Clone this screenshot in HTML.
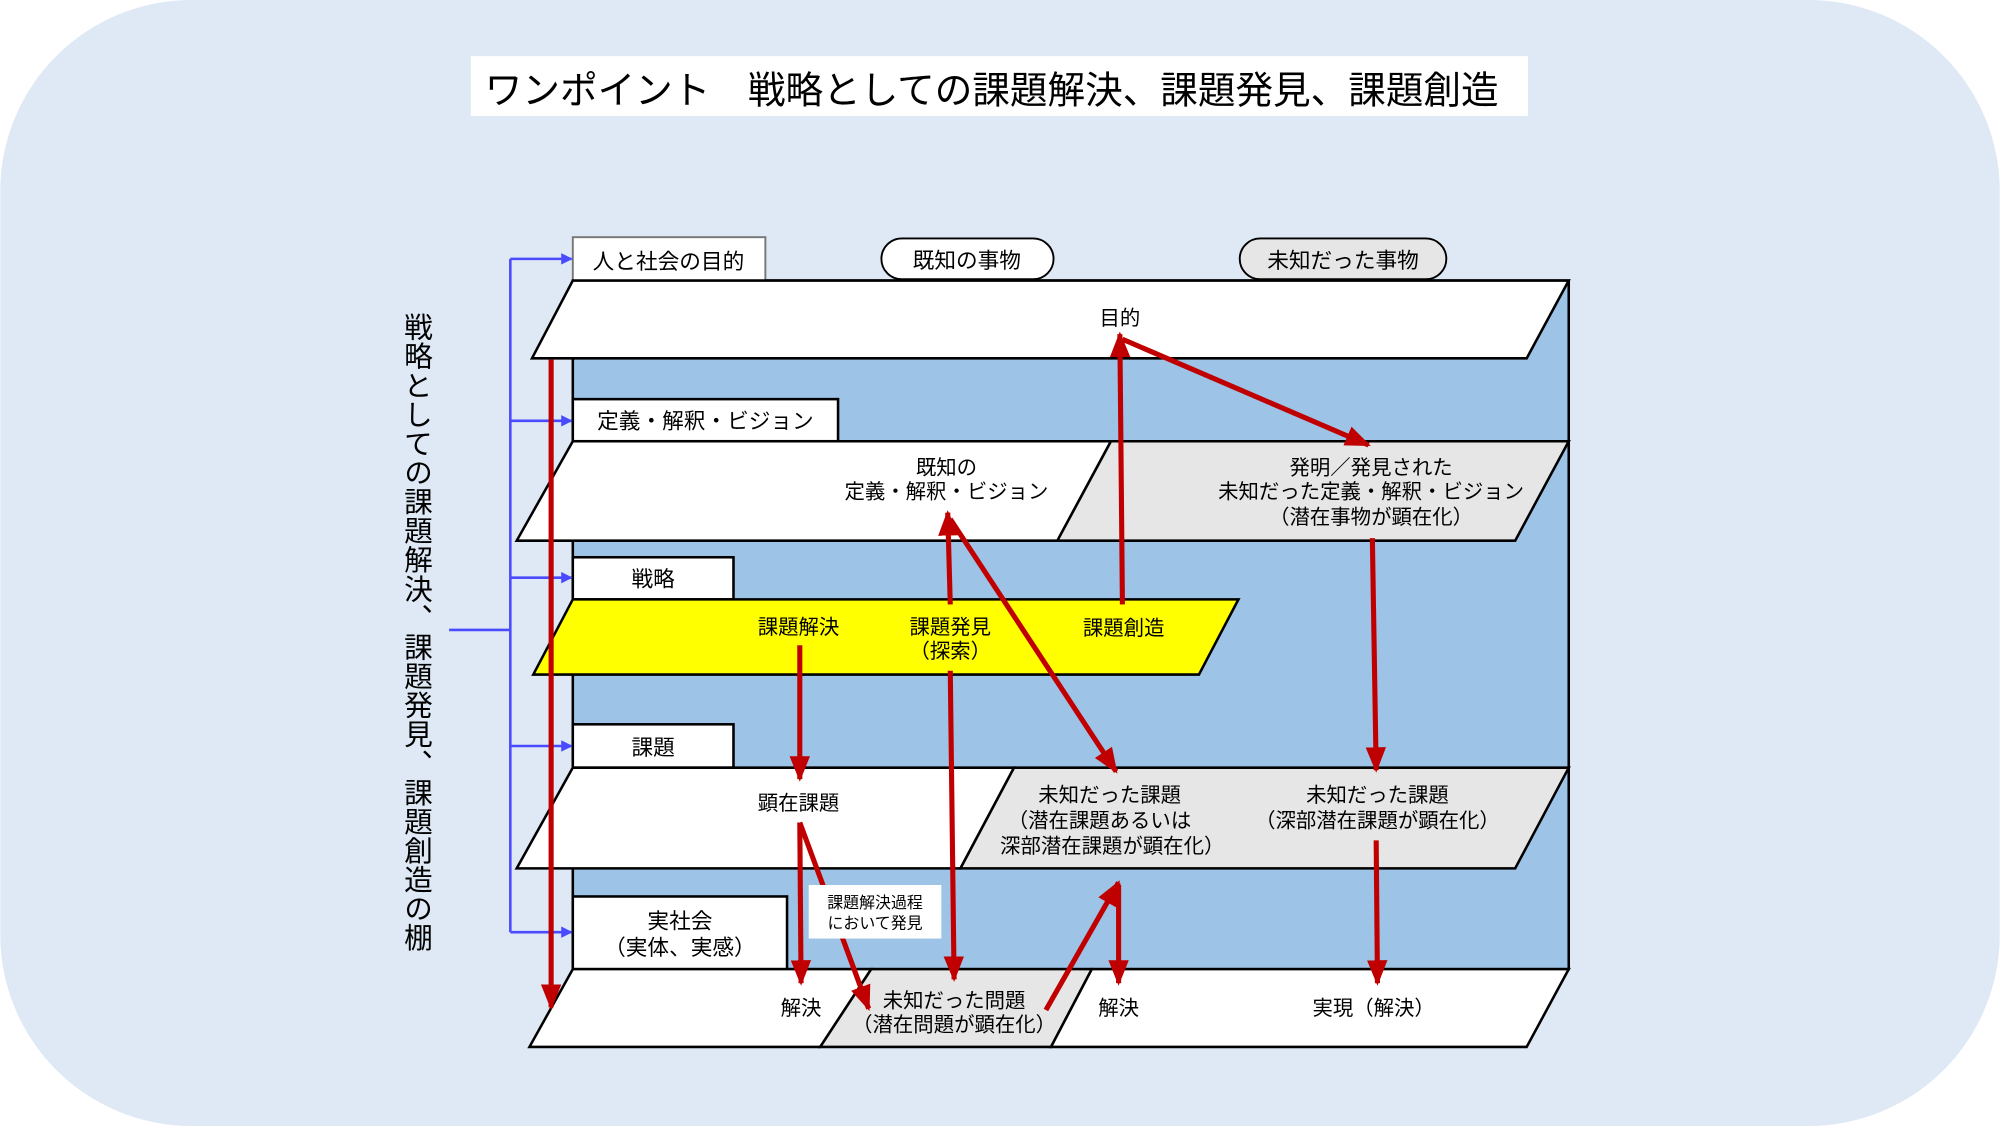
<!DOCTYPE html>
<html><head><meta charset="utf-8"><style>
html,body{margin:0;padding:0;background:#fff;}
svg{display:block;}
text{font-family:"Liberation Sans","Noto Sans CJK JP",sans-serif;fill:#000;}
</style></head><body>
<svg width="2000" height="1126" viewBox="0 0 1568 883" xmlns="http://www.w3.org/2000/svg">
<defs>
<marker id="ar" viewBox="0 0 20 16" refX="18" refY="8" markerWidth="20" markerHeight="16" markerUnits="userSpaceOnUse" orient="auto"><path d="M0,0 L20,8 L0,16 Z" fill="#c00000"/></marker>
<marker id="ab" viewBox="0 0 10 10" refX="9" refY="5" markerWidth="9" markerHeight="9" markerUnits="userSpaceOnUse" orient="auto"><path d="M0,0 L10,5 L0,10 Z" fill="#4a4aff"/></marker>
</defs>
<rect x="0" y="0" width="1568" height="883" rx="150" ry="150" fill="#dee9f5"/>
<rect x="369" y="44" width="829" height="47" fill="#fff"/>
<text x="380" y="81" font-size="30" textLength="795" lengthAdjust="spacingAndGlyphs">ワンポイント　戦略としての課題解決、課題発見、課題創造</text>

<rect x="449" y="220" width="781" height="540" fill="#9dc3e6" stroke="#000" stroke-width="2"/>

<rect x="449" y="186" width="151" height="34" fill="#fff" stroke="#777" stroke-width="1.5"/>
<text x="524" y="211" font-size="17" text-anchor="middle">人と社会の目的</text>
<rect x="691" y="187" width="135" height="32" rx="16" fill="#fff" stroke="#000" stroke-width="1.5"/>
<text x="758" y="210" font-size="17" text-anchor="middle">既知の事物</text>
<rect x="972" y="187" width="162" height="32" rx="16" fill="#e6e6e6" stroke="#000" stroke-width="1.5"/>
<text x="1053" y="210" font-size="17" text-anchor="middle">未知だった事物</text>
<polygon points="449,220 1230,220 1197,281 417,281" fill="#fff" stroke="#000" stroke-width="2"/>
<text x="878" y="255" font-size="16" text-anchor="middle">目的</text>

<rect x="449" y="313" width="208" height="33" fill="#fff" stroke="#000" stroke-width="2"/>
<text x="553" y="336" font-size="17" text-anchor="middle">定義・解釈・ビジョン</text>
<polygon points="449,346 871,346 829,424 405,424" fill="#fff" stroke="#000" stroke-width="2"/>
<polygon points="871,346 1230,346 1188,424 829,424" fill="#e6e6e6" stroke="#000" stroke-width="2"/>
<text x="742" y="372" font-size="16" text-anchor="middle">既知の</text>
<text x="742" y="391" font-size="16" text-anchor="middle">定義・解釈・ビジョン</text>
<text x="1075" y="372" font-size="16" text-anchor="middle">発明／発見された</text>
<text x="1075" y="391" font-size="16" text-anchor="middle">未知だった定義・解釈・ビジョン</text>
<text x="1075" y="411" font-size="16" text-anchor="middle">（潜在事物が顕在化）</text>

<rect x="449" y="437" width="126" height="33" fill="#fff" stroke="#000" stroke-width="2"/>
<text x="512" y="460" font-size="17" text-anchor="middle">戦略</text>
<polygon points="449,470 971,470 940,529 418,529" fill="#ffff00" stroke="#000" stroke-width="2"/>
<text x="626" y="497" font-size="16" text-anchor="middle">課題解決</text>
<text x="745" y="497" font-size="16" text-anchor="middle">課題発見</text>
<text x="745" y="516" font-size="16" text-anchor="middle">（探索）</text>
<text x="881" y="498" font-size="16" text-anchor="middle">課題創造</text>

<rect x="449" y="568" width="126" height="34" fill="#fff" stroke="#000" stroke-width="2"/>
<text x="512" y="592" font-size="17" text-anchor="middle">課題</text>
<polygon points="449,602 795,602 753,681 405,681" fill="#fff" stroke="#000" stroke-width="2"/>
<polygon points="795,602 1230,602 1188,681 753,681" fill="#e6e6e6" stroke="#000" stroke-width="2"/>
<text x="626" y="635" font-size="16" text-anchor="middle">顕在課題</text>
<text x="870" y="629" font-size="16" text-anchor="middle">未知だった課題</text>
<text x="862" y="649" font-size="16" text-anchor="middle">（潜在課題あるいは</text>
<text x="872" y="669" font-size="16" text-anchor="middle">深部潜在課題が顕在化）</text>
<text x="1080" y="629" font-size="16" text-anchor="middle">未知だった課題</text>
<text x="1080" y="649" font-size="16" text-anchor="middle">（深部潜在課題が顕在化）</text>

<rect x="449" y="703" width="168" height="57" fill="#fff" stroke="#000" stroke-width="2"/>
<text x="533" y="728" font-size="17" text-anchor="middle">実社会</text>
<text x="533" y="749" font-size="17" text-anchor="middle">（実体、実感）</text>
<polygon points="449,760 683,760 643,821 415,821" fill="#fff" stroke="#000" stroke-width="2"/>
<polygon points="683,760 856,760 824,821 643,821" fill="#e6e6e6" stroke="#000" stroke-width="2"/>
<polygon points="856,760 1230,760 1197,821 824,821" fill="#fff" stroke="#000" stroke-width="2"/>
<text x="628" y="796" font-size="16" text-anchor="middle">解決</text>
<text x="748" y="790" font-size="16" text-anchor="middle">未知だった問題</text>
<text x="748" y="809" font-size="16" text-anchor="middle">（潜在問題が顕在化）</text>
<text x="877" y="796" font-size="16" text-anchor="middle">解決</text>
<text x="1077" y="796" font-size="16" text-anchor="middle">実現（解決）</text>

<text x="326" y="245" font-size="22.5" style="writing-mode:vertical-rl;text-orientation:upright;letter-spacing:0.3px" writing-mode="tb">戦略としての課題解決、課題発見、課題創造の棚</text>

<g stroke="#4a4aff" stroke-width="2" fill="none">
<line x1="352" y1="494" x2="400" y2="494"/>
<line x1="400" y1="203" x2="400" y2="731"/>
<line x1="400" y1="203" x2="448" y2="203" marker-end="url(#ab)"/>
<line x1="400" y1="330" x2="448" y2="330" marker-end="url(#ab)"/>
<line x1="400" y1="453" x2="448" y2="453" marker-end="url(#ab)"/>
<line x1="400" y1="585" x2="448" y2="585" marker-end="url(#ab)"/>
<line x1="400" y1="731" x2="448" y2="731" marker-end="url(#ab)"/>
</g>

<g stroke="#c00000" stroke-width="4" fill="none">
<line x1="432" y1="282" x2="432" y2="790" marker-end="url(#ar)"/>
<line x1="880" y1="474" x2="878" y2="262" marker-end="url(#ar)"/>
<line x1="880" y1="266" x2="1073" y2="349" marker-end="url(#ar)"/>
<line x1="1076" y1="422" x2="1079" y2="604" marker-end="url(#ar)"/>
<line x1="1079" y1="659" x2="1080" y2="771" marker-end="url(#ar)"/>
<line x1="745" y1="474" x2="743" y2="402" marker-end="url(#ar)"/>
<line x1="745" y1="407" x2="875" y2="605" marker-end="url(#ar)"/>
<line x1="745" y1="526" x2="748" y2="768" marker-end="url(#ar)"/>
<line x1="627" y1="506" x2="627" y2="611" marker-end="url(#ar)"/>
<line x1="627" y1="645" x2="628" y2="771" marker-end="url(#ar)"/>
<line x1="627" y1="645" x2="681" y2="791" marker-end="url(#ar)"/>
<line x1="820" y1="792" x2="877" y2="692" marker-end="url(#ar)"/>
<line x1="877" y1="694" x2="877" y2="771" marker-end="url(#ar)"/>
</g>

<rect x="634" y="694" width="104" height="42" fill="#fff"/>
<text x="686" y="712" font-size="12.5" text-anchor="middle">課題解決過程</text>
<text x="686" y="728" font-size="12.5" text-anchor="middle">において発見</text>
</svg>
</body></html>
